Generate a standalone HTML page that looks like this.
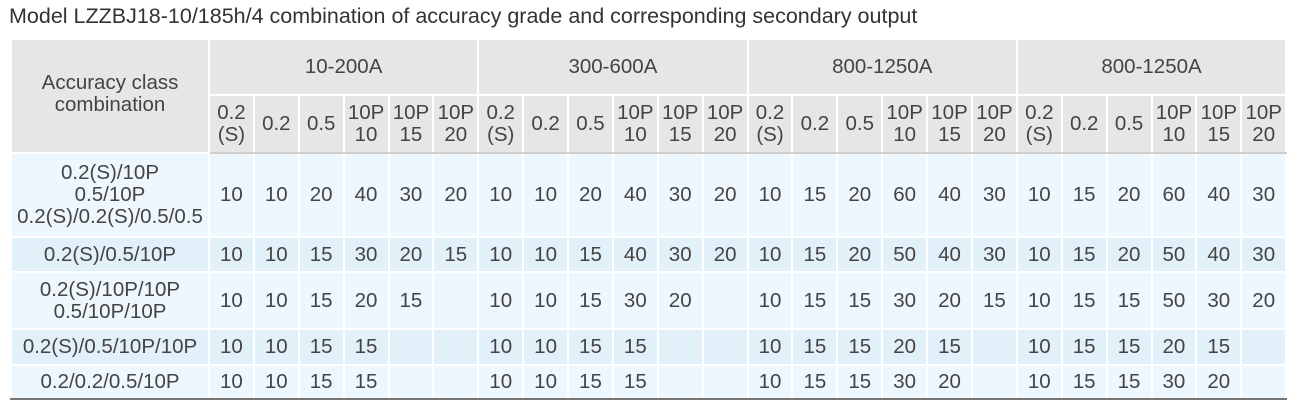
<!DOCTYPE html>
<html><head><meta charset="utf-8"><style>
body{margin:0;background:#fff;width:1307px;height:419px;overflow:hidden;font-family:"Liberation Sans","DejaVu Sans",sans-serif;}
.t{position:absolute;left:9px;top:4px;font-size:21.5px;color:#333;}
table{position:absolute;left:10px;top:38px;border-collapse:collapse;table-layout:fixed;width:1275px;color:#444;}
td{border:2px solid #fff;text-align:center;font-size:20.5px;padding:0;line-height:22px;white-space:nowrap;}
thead td{background:#e6e6e6;}
.sub td{border-bottom:2px solid #cfcfcf;}
.a td{background:#eef7fd;}
.b td{background:#e2f0fa;}
tbody tr:last-child td{border-bottom:2px solid #777;}
</style></head><body>
<div class="t">Model LZZBJ18-10/185h/4 combination of accuracy grade and corresponding secondary output</div>
<table>
<colgroup><col style="width:198px"><col span="24" style="width:44.875px"></colgroup>
<thead>
<tr style="height:56px"><td rowspan="2" style="vertical-align:top;padding-top:32px">Accuracy class<br>combination</td><td colspan="6">10-200A</td><td colspan="6">300-600A</td><td colspan="6">800-1250A</td><td colspan="6">800-1250A</td></tr>
<tr class="sub" style="height:58px">
<td>0.2<br>(S)</td><td>0.2</td><td>0.5</td><td>10P<br>10</td><td>10P<br>15</td><td>10P<br>20</td>
<td>0.2<br>(S)</td><td>0.2</td><td>0.5</td><td>10P<br>10</td><td>10P<br>15</td><td>10P<br>20</td>
<td>0.2<br>(S)</td><td>0.2</td><td>0.5</td><td>10P<br>10</td><td>10P<br>15</td><td>10P<br>20</td>
<td>0.2<br>(S)</td><td>0.2</td><td>0.5</td><td>10P<br>10</td><td>10P<br>15</td><td>10P<br>20</td></tr>
</thead>
<tbody>
<tr class="a" style="height:84px"><td>0.2(S)/10P<br>0.5/10P<br>0.2(S)/0.2(S)/0.5/0.5</td><td>10</td><td>10</td><td>20</td><td>40</td><td>30</td><td>20</td><td>10</td><td>10</td><td>20</td><td>40</td><td>30</td><td>20</td><td>10</td><td>15</td><td>20</td><td>60</td><td>40</td><td>30</td><td>10</td><td>15</td><td>20</td><td>60</td><td>40</td><td>30</td></tr>
<tr class="b" style="height:35px"><td>0.2(S)/0.5/10P</td><td>10</td><td>10</td><td>15</td><td>30</td><td>20</td><td>15</td><td>10</td><td>10</td><td>15</td><td>40</td><td>30</td><td>20</td><td>10</td><td>15</td><td>20</td><td>50</td><td>40</td><td>30</td><td>10</td><td>15</td><td>20</td><td>50</td><td>40</td><td>30</td></tr>
<tr class="a" style="height:57px"><td>0.2(S)/10P/10P<br>0.5/10P/10P</td><td>10</td><td>10</td><td>15</td><td>20</td><td>15</td><td></td><td>10</td><td>10</td><td>15</td><td>30</td><td>20</td><td></td><td>10</td><td>15</td><td>15</td><td>30</td><td>20</td><td>15</td><td>10</td><td>15</td><td>15</td><td>50</td><td>30</td><td>20</td></tr>
<tr class="b" style="height:36px"><td>0.2(S)/0.5/10P/10P</td><td>10</td><td>10</td><td>15</td><td>15</td><td></td><td></td><td>10</td><td>10</td><td>15</td><td>15</td><td></td><td></td><td>10</td><td>15</td><td>15</td><td>20</td><td>15</td><td></td><td>10</td><td>15</td><td>15</td><td>20</td><td>15</td><td></td></tr>
<tr class="a" style="height:34px"><td>0.2/0.2/0.5/10P</td><td>10</td><td>10</td><td>15</td><td>15</td><td></td><td></td><td>10</td><td>10</td><td>15</td><td>15</td><td></td><td></td><td>10</td><td>15</td><td>15</td><td>30</td><td>20</td><td></td><td>10</td><td>15</td><td>15</td><td>30</td><td>20</td><td></td></tr>
</tbody></table>
</body></html>
